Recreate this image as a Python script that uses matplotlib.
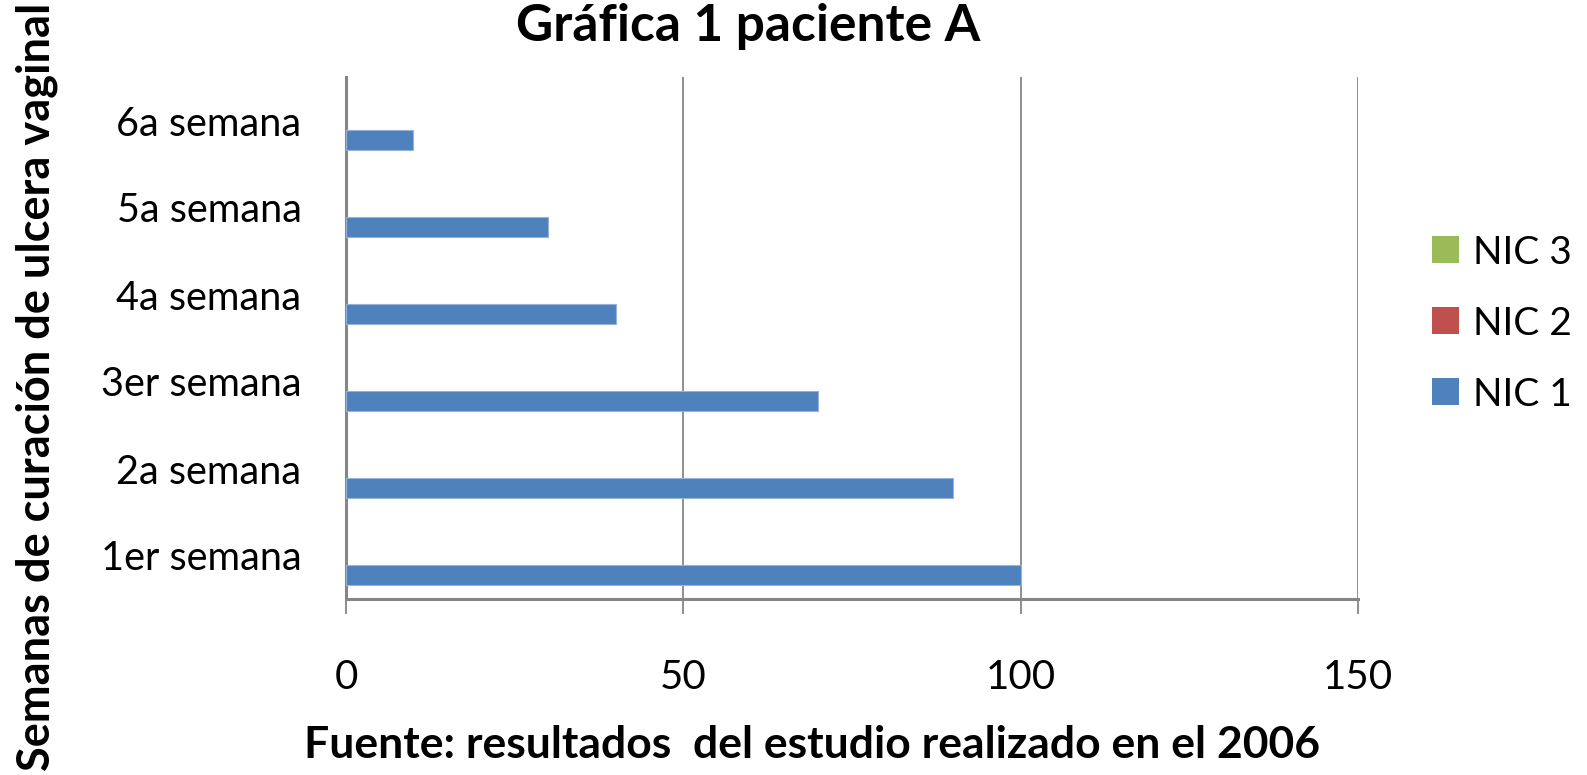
import matplotlib
matplotlib.use("Agg")
import matplotlib.pyplot as plt
from matplotlib.patches import Patch
import numpy as np

plt.rcParams['font.family'] = ['Lato', 'DejaVu Sans']

# Data
categories = ["1er semana", "2a semana", "3er semana", "4a semana", "5a semana", "6a semana"]
nic1 = [100, 90, 70, 40, 30, 10]
nic2 = [0, 0, 0, 0, 0, 0]
nic3 = [0, 0, 0, 0, 0, 0]
series_names = ["NIC 1", "NIC 2", "NIC 3"]
series_colors = ["#4F81BD", "#C0504D", "#9BBB59"]
x_ticks = [0, 50, 100, 150]

W, H = 1587, 775
fig = plt.figure(figsize=(W / 100, H / 100), dpi=100)
ax = fig.add_axes([346 / W, 1 - 599 / H, (1358 - 346) / W, (599 - 77) / H])

y = np.arange(len(categories))
h = 1 / 4.5  # three bars per group with a 150% gap
for i, (vals, col) in enumerate(zip([nic1, nic2, nic3], series_colors)):
    ax.barh(y + (i - 1) * h, vals, height=h, color=col, edgecolor="#95B3D7" if i == 0 else col,
            linewidth=0.8 if i == 0 else 0, zorder=3)

ax.set_xlim(0, 150)
ax.set_ylim(-0.5, len(categories) - 0.5)
ax.set_xticks(x_ticks)
ax.set_xticklabels([str(t) for t in x_ticks])
ax.set_yticks(y)
ax.set_yticklabels(categories)

grid_col = "#868686"
ax.grid(axis="x", color=grid_col, linewidth=1.3, zorder=0)
ax.grid(axis="y", visible=False)
for s in ["top", "right"]:
    ax.spines[s].set_visible(False)
for s in ["left", "bottom"]:
    ax.spines[s].set_color(grid_col)
    ax.spines[s].set_linewidth(2.2)

ax.tick_params(axis="x", direction="out", length=10.5, width=1.3, color=grid_col,
               labelsize=29, pad=33, labelcolor="black")
ax.tick_params(axis="y", length=0, labelsize=28.5, pad=32, labelcolor="black")

fig.text(748 / W, 1 - 41 / H, "Gráfica 1 paciente A", ha="center", va="baseline",
         fontsize=37, fontweight="bold")
fig.text(812 / W, 1 - 758 / H, "Fuente: resultados  del estudio realizado en el 2006",
         ha="center", va="baseline", fontsize=32, fontweight="bold")
fig.text(37 / W, 1 - 387 / H, "Semanas de curación de ulcera vaginal", ha="center",
         va="center", rotation=90, fontsize=32.5, fontweight="bold")

handles = [Patch(facecolor=c, edgecolor="none") for c in series_colors][::-1]
labels = series_names[::-1]
fig.legend(handles, labels, loc="center left", bbox_to_anchor=(1432 / W, 1 - 323.5 / H),
           frameon=False, fontsize=28, handlelength=0.69, handleheight=0.69,
           handletextpad=0.36, labelspacing=0.9, borderpad=0, borderaxespad=0)

fig.savefig("out.png", dpi=100)
